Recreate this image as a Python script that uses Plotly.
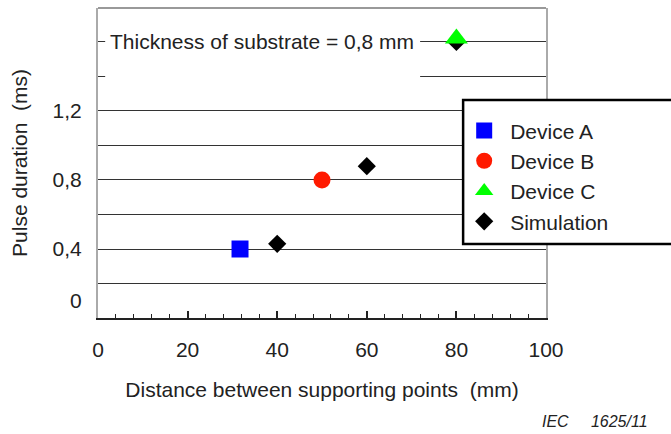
import plotly.graph_objects as go

# ---- data ----
dev_a_x = [31.7]
dev_a_y = [0.40]
dev_b_x = [50]
dev_b_y = [0.80]
dev_c_x = [80]
dev_c_y = [1.62]
sim_x = [40, 60, 80]
sim_y = [0.43, 0.88, 1.60]

x_tick_vals = [0, 20, 40, 60, 80, 100]
y_grid_vals = [0, 0.2, 0.4, 0.6, 0.8, 1.0, 1.2, 1.4, 1.6]
y_grid_text = ["", "", "0,4", "", "0,8", "", "1,2", "", ""]
zero_label_pos = 0.104

FONT = "Liberation Sans, Arial, sans-serif"
TXT = "#222222"

fig = go.Figure()
fig.add_trace(go.Scatter(x=sim_x, y=sim_y, mode="markers", name="Simulation",
                         legendrank=4,
                         marker=dict(symbol="diamond", size=14, color="black")))
fig.add_trace(go.Scatter(x=dev_a_x, y=dev_a_y, mode="markers", name="Device A",
                         legendrank=1,
                         marker=dict(symbol="square", size=17, color="#0000ff")))
fig.add_trace(go.Scatter(x=dev_b_x, y=dev_b_y, mode="markers", name="Device B",
                         legendrank=2,
                         marker=dict(symbol="circle", size=17, color="#ff1a00")))
fig.add_trace(go.Scatter(x=dev_c_x, y=dev_c_y, mode="markers", name="Device C",
                         legendrank=3,
                         marker=dict(symbol="triangle-up", size=20, color="#00ff00")))

fig.update_layout(
    width=671, height=434,
    margin=dict(l=98, r=125, t=8, b=116),
    paper_bgcolor="white", plot_bgcolor="white",
    font=dict(family=FONT, size=21, color=TXT),
    showlegend=True,
    legend=dict(x=0.804, y=0.67, xanchor="left", yanchor="top",
                bgcolor="rgba(0,0,0,0)", borderwidth=0, itemwidth=42,
                font=dict(family=FONT, size=21, color=TXT),
                tracegroupgap=4),
    xaxis=dict(range=[0, 100], tickmode="array", tickvals=x_tick_vals,
               ticks="inside", ticklen=7, tickwidth=1.5, tickcolor="#222",
               minor=dict(ticks="inside", ticklen=4, dtick=4, tick0=0,
                          tickcolor="#222", tickwidth=1),
               showline=True, linecolor="#222", linewidth=2,
               showgrid=False, zeroline=False,
               ticklabelstandoff=12,
               title=dict(text="Distance between supporting points\u00a0 (mm)",
                          standoff=22, font=dict(size=21))),
    yaxis=dict(range=[0, 1.797], tickmode="array", tickvals=y_grid_vals,
               ticktext=y_grid_text, ticks="",
               showgrid=True, gridcolor="#333", gridwidth=1,
               showline=True, linecolor="#aaaaaa", linewidth=2, mirror=True,
               zeroline=False, ticklabelstandoff=10,
               title=dict(text="Pulse duration\u00a0 (ms)", standoff=19,
                          font=dict(size=21))),
)

# white area behind the substrate note (hides gridlines there)
fig.add_shape(type="rect", xref="x", yref="y", x0=1.6, x1=71.9, y0=1.33, y1=1.72,
              fillcolor="white", line=dict(width=0), layer="between")
# top frame line
fig.add_shape(type="line", xref="paper", yref="paper", x0=0, x1=1, y0=1, y1=1,
              line=dict(color="#999999", width=2), layer="above")
# legend frame
fig.add_shape(type="rect", xref="paper", yref="paper", x0=0.815, x1=1.3,
              y0=0.239, y1=0.703, fillcolor="white",
              line=dict(color="black", width=2.5), layer="above")

fig.add_annotation(x=2.2, y=1.6, xref="x", yref="y", xanchor="left", yanchor="middle",
                   text="Thickness of substrate = 0,8 mm", showarrow=False,
                   font=dict(size=21, color=TXT))
fig.add_annotation(x=0, y=zero_label_pos, xref="paper", yref="y", xanchor="right",
                   yanchor="middle", xshift=-14, text="0", showarrow=False,
                   font=dict(size=21, color=TXT))
fig.add_annotation(x=1.232, y=-0.335, xref="paper", yref="paper", xanchor="right",
                   yanchor="middle", text="<i>IEC\u00a0\u00a0\u00a0\u00a0 1625/11</i>",
                   showarrow=False, font=dict(size=16, color=TXT))

fig.write_html("out.html")
